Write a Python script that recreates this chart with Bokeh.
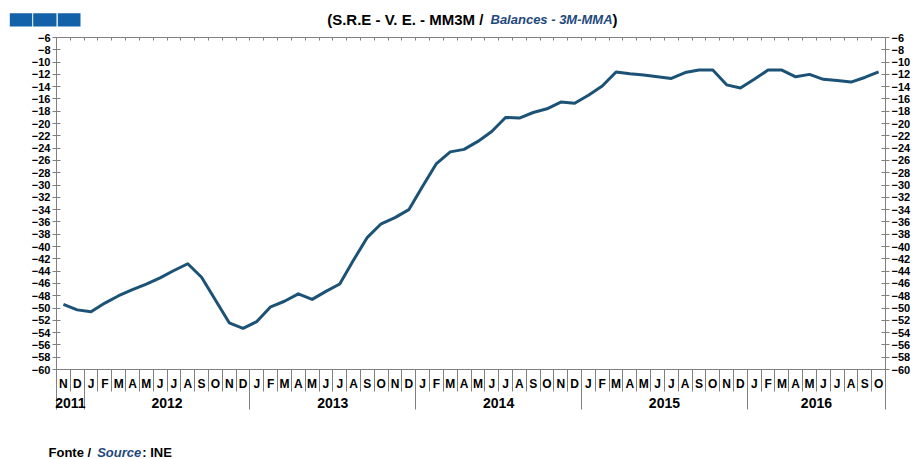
from bokeh.plotting import figure
from bokeh.models import LinearAxis, FixedTicker, Range1d
from bokeh.layouts import column
from bokeh.core.properties import value
from bokeh.embed import file_html
from bokeh.resources import INLINE

# ---- data ----
month_letters = (["N", "D"]
                 + ["J", "F", "M", "A", "M", "J", "J", "A", "S", "O", "N", "D"] * 4
                 + ["J", "F", "M", "A", "M", "J", "J", "A", "S", "O"])
years = ["2011", "2012", "2013", "2014", "2015", "2016"]
months_per_year = [2, 12, 12, 12, 12, 10]
values = [
    -49.4, -50.3,
    -50.6, -49.2, -48.0, -47.0, -46.1, -45.1, -43.9, -42.8, -45.0, -48.7, -52.4, -53.3,
    -52.2, -49.8, -48.9, -47.7, -48.6, -47.3, -46.1, -42.2, -38.5, -36.3, -35.3, -34.0,
    -30.2, -26.5, -24.6, -24.2, -22.9, -21.3, -19.0, -19.1, -18.2, -17.6, -16.5, -16.7,
    -15.4, -13.9, -11.6, -11.9, -12.1, -12.4, -12.65, -11.7, -11.3, -11.3, -13.7, -14.2,
    -12.8, -11.3, -11.3, -12.4, -12.0, -12.8, -13.0, -13.25, -12.5, -11.6,
]
y_ticks = list(range(-60, -5, 2))
title_parts = ["(S.R.E - V. E. - MM3M / ", "Balances - 3M-MMA", ")"]
source_parts = ["Fonte / ", "Source", ": INE"]

# ---- derived ----
n = len(values)
xs = [i + 0.5 for i in range(n)]
boundaries = list(range(0, n + 1))
year_bounds = [0]
for c in months_per_year:
    year_bounds.append(year_bounds[-1] + c)
year_centers = [int((a + b) / 2) for a, b in zip(year_bounds[:-1], year_bounds[1:])]

W = 915
H_HEAD, H_MAIN, H_FOOT = 30, 400, 29
AX = "#808080"
LINE = "#1b5276"
BLUE = "#1f497d"
LOGO = "#1261a9"
FONT = "Liberation Sans"


def blank(h):
    f = figure(width=W, height=h, output_backend="svg", toolbar_location=None,
               x_range=Range1d(0, W), y_range=Range1d(h, 0),
               x_axis_location=None, y_axis_location=None, min_border=0,
               frame_align=False)
    f.grid.visible = False
    f.outline_line_color = None
    f.background_fill_color = "white"
    f.border_fill_color = "white"
    return f


# ---- header: logo + title ----
head = blank(H_HEAD)
head.quad(left=[9.3, 32.7, 57.3], right=[31.7, 56, 80], top=[12.7] * 3, bottom=[26] * 3,
          fill_color=LOGO, line_color=None)
head.text(x=[487], y=[19], text=[title_parts[0]], text_font=value(FONT),
          text_font_style="bold", text_font_size="15px", text_color="black",
          text_align="right", text_baseline="middle")
head.text(x=[490], y=[19], text=[title_parts[1]], text_font=value(FONT),
          text_font_style="bold italic", text_font_size="13px", text_color=BLUE,
          text_align="left", text_baseline="middle")
head.text(x=[612], y=[19], text=[title_parts[2]], text_font=value(FONT),
          text_font_style="bold", text_font_size="15px", text_color="black",
          text_align="left", text_baseline="middle")

# ---- main chart ----
p = figure(width=W, height=H_MAIN, output_backend="svg", toolbar_location=None,
           x_range=Range1d(0, n), y_range=Range1d(-60, -6),
           x_axis_location=None, y_axis_location=None,
           min_border_left=56, min_border_right=W - 885,
           min_border_top=7, min_border_bottom=H_MAIN - 339,
           frame_align=False)
p.grid.visible = False
p.outline_line_color = None
p.background_fill_color = "white"
p.border_fill_color = "white"


def y_axis():
    ax = LinearAxis(ticker=FixedTicker(ticks=y_ticks, minor_ticks=[]))
    ax.axis_line_color = AX
    ax.major_tick_line_color = AX
    ax.minor_tick_line_color = None
    ax.major_tick_in = 4
    ax.major_tick_out = 4
    ax.major_label_standoff = 2
    ax.major_label_text_font = FONT
    ax.major_label_text_font_style = "bold"
    ax.major_label_text_font_size = "11px"
    ax.major_label_text_color = "black"
    return ax


p.add_layout(y_axis(), "left")
p.add_layout(y_axis(), "right")

top = LinearAxis(ticker=FixedTicker(ticks=[], minor_ticks=boundaries))
top.axis_line_color = AX
top.minor_tick_line_color = AX
top.minor_tick_in = 3
top.minor_tick_out = 0
top.major_tick_line_color = None
top.major_tick_out = 0
p.add_layout(top, "above")

mx = LinearAxis(ticker=FixedTicker(ticks=xs, minor_ticks=boundaries),
                major_label_overrides={c: m for c, m in zip(xs, month_letters)})
mx.axis_line_color = AX
mx.major_tick_line_color = None
mx.major_tick_in = 0
mx.major_tick_out = 0
mx.minor_tick_line_color = AX
mx.minor_tick_in = 0
mx.minor_tick_out = 22
mx.major_label_standoff = -15
mx.major_label_text_font = FONT
mx.major_label_text_font_style = "bold"
mx.major_label_text_font_size = "12px"
mx.major_label_text_color = "black"
p.add_layout(mx, "below")

yx = LinearAxis(ticker=FixedTicker(ticks=year_centers, minor_ticks=year_bounds),
                major_label_overrides={c: y for c, y in zip(year_centers, years)})
yx.axis_line_color = None
yx.major_tick_line_color = None
yx.major_tick_in = 0
yx.major_tick_out = 0
yx.minor_tick_line_color = AX
yx.minor_tick_in = 23
yx.minor_tick_out = 16
yx.major_label_standoff = -12
yx.major_label_text_font = FONT
yx.major_label_text_font_style = "bold"
yx.major_label_text_font_size = "14px"
yx.major_label_text_color = "black"
p.add_layout(yx, "below")

p.line(xs, values, line_color=LINE, line_width=3, line_join="round")

# ---- footer: source ----
foot = blank(H_FOOT)
fy = 14
foot.text(x=[48], y=[fy], text=[source_parts[0]], text_font=value(FONT),
          text_font_style="bold", text_font_size="13px", text_color="black",
          text_align="left", text_baseline="top")
foot.text(x=[96.7], y=[fy], text=[source_parts[1]], text_font=value(FONT),
          text_font_style="bold italic", text_font_size="13px", text_color=BLUE,
          text_align="left", text_baseline="top")
foot.text(x=[141.7], y=[fy], text=[source_parts[2]], text_font=value(FONT),
          text_font_style="bold", text_font_size="13px", text_color="black",
          text_align="left", text_baseline="top")

layout = column(head, p, foot, spacing=0)
open("out.html", "w").write(file_html(layout, INLINE))
